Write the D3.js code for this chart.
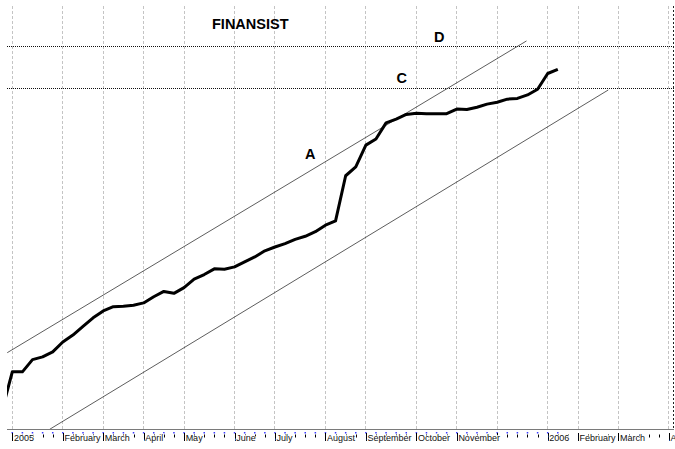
<!DOCTYPE html>
<html><head><meta charset="utf-8">
<script src="https://cdn.jsdelivr.net/npm/d3@7"></script>
<style>html,body{margin:0;padding:0;background:#fff;}svg{display:block;}</style>
</head><body>
<svg id="c" width="675" height="449"></svg>
<script>
// ---- data ----
const title = "FINANSIST";
// weekly closes (week index 0 = first week of 2005)
const weeks = [-1,0,1,2,3,4,5,6,7,8,9,10,11,12,13,14,15,16,17,18,19,20,21,22,23,24,25,26,27,28,29,30,31,32,33,34,35,36,37,38,39,40,41,42,43,44,45,46,47,48,49,50,51,52,53,54];
const closes = [5.0,15.0,15.0,18.2,18.9,20.2,22.8,24.6,26.9,29.1,30.9,32.0,32.1,32.4,33.0,34.6,36.0,35.5,37.0,39.2,40.4,41.9,41.8,42.4,43.7,45.0,46.6,47.6,48.5,49.6,50.4,51.6,53.3,54.4,66.2,68.5,74.2,75.8,80.0,81.0,82.2,82.5,82.4,82.4,82.4,83.6,83.5,84.1,84.9,85.4,86.2,86.4,87.3,88.8,92.9,94.0];
// month tick positions (week index) and labels
const monthWeeks  = [0,5,9,13,17,22,26,31,35,40,44,48,53,56,60,65];
const monthLabels = ["2005","February","March","April","May","June","July","August","September","October","November","","2006","February","March","April"];
// channel lines: [startWeek,startValue,endWeek,endValue]
const lineA = [-0.5, 20.0, 50.9, 101.4];
const lineLower = [3.7, 0.0, 59.0, 88.6];
// horizontal levels
const levelNames = ["D","C"];
const levelValues = [100, 89];

// ---- layout ----
const svg = d3.select("#c");
const L = 7, R = 673.5, T = 6, B = 429.3;
const x = d3.scaleLinear().domain([0,53]).range([12.3,547.7]);
const y = d3.scaleLinear().domain([0,100]).range([B,46.3]);

svg.append("clipPath").attr("id","pc").append("rect")
  .attr("x",L).attr("y",0).attr("width",R-L).attr("height",B);

// vertical gridlines
svg.append("g").selectAll("line").data(monthWeeks).join("line")
  .attr("x1",d=>x(d)).attr("x2",d=>x(d)).attr("y1",T).attr("y2",B)
  .attr("stroke","#c4c4c4").attr("stroke-width",1).attr("stroke-dasharray","3,2")
  .attr("shape-rendering","crispEdges");

// right border
svg.append("line").attr("x1",R).attr("x2",R).attr("y1",T).attr("y2",B)
  .attr("stroke","#222").attr("stroke-width",1).attr("stroke-dasharray","2,2")
  .attr("shape-rendering","crispEdges");

// horizontal levels
svg.append("g").selectAll("line").data(levelValues).join("line")
  .attr("x1",L).attr("x2",R).attr("y1",d=>y(d)).attr("y2",d=>y(d))
  .attr("stroke","#111").attr("stroke-width",1).attr("stroke-dasharray","1,1")
  .attr("shape-rendering","crispEdges");

// channel lines
const gp = svg.append("g").attr("clip-path","url(#pc)");
[lineA,lineLower].forEach(l=>{
  gp.append("line").attr("x1",x(l[0])).attr("y1",y(l[1])).attr("x2",x(l[2])).attr("y2",y(l[3]))
    .attr("stroke","#333").attr("stroke-width",0.8);
});

// close series
const data = weeks.map((w,i)=>[w,closes[i]]);
gp.append("path").datum(data)
  .attr("d",d3.line().x(d=>x(d[0])).y(d=>y(d[1])))
  .attr("fill","none").attr("stroke","#000").attr("stroke-width",3)
  .attr("stroke-linejoin","round");

// axis line
svg.append("line").attr("x1",L).attr("x2",R).attr("y1",B).attr("y2",B)
  .attr("stroke","#7a7a7a").attr("stroke-width",1).attr("shape-rendering","crispEdges");

// blue data dots
const dataWeeks = weeks.filter(w=>w>=0);
svg.append("g").selectAll("rect").data(dataWeeks).join("rect")
  .attr("x",d=>x(d)-0.75).attr("y",432).attr("width",1.5).attr("height",1.5)
  .attr("fill","#3a3aff");

// weekly ticks
const allWeeks = d3.range(0,66);
svg.append("g").selectAll("line").data(allWeeks.filter(w=>!monthWeeks.includes(w))).join("line")
  .attr("x1",d=>Math.round(x(d))+0.5).attr("x2",d=>Math.round(x(d))+0.5).attr("y1",434.5).attr("y2",437.5)
  .attr("stroke","#000").attr("stroke-width",1);

// month ticks
svg.append("g").selectAll("line").data(monthWeeks).join("line")
  .attr("x1",d=>Math.round(x(d))+0.5).attr("x2",d=>Math.round(x(d))+0.5).attr("y1",433).attr("y2",441)
  .attr("stroke","#000").attr("stroke-width",1);

// month labels (white halo hides ticks under letters)
svg.append("g").selectAll("text").data(monthWeeks).join("text")
  .attr("x",d=>x(d)+1.6).attr("y",441)
  .attr("font-family","Liberation Sans, Arial, sans-serif").attr("font-size",9).attr("fill","#111")
  .attr("stroke","#fff").attr("stroke-width",1.6).attr("paint-order","stroke")
  .text((d,i)=>monthLabels[i]);

// title and annotations
const bold = s=>s.attr("font-family","Liberation Sans, Arial, sans-serif").attr("font-weight","bold").attr("font-size",14.5).attr("fill","#000");
svg.append("text").attr("x",212).attr("y",29).text(title).call(bold);
svg.append("text").attr("x",434).attr("y",41.7).text(levelNames[0]).call(bold);
svg.append("text").attr("x",396.5).attr("y",82.7).text(levelNames[1]).call(bold);
svg.append("text").attr("x",305).attr("y",158.5).text("A").call(bold);
</script>
</body></html>
